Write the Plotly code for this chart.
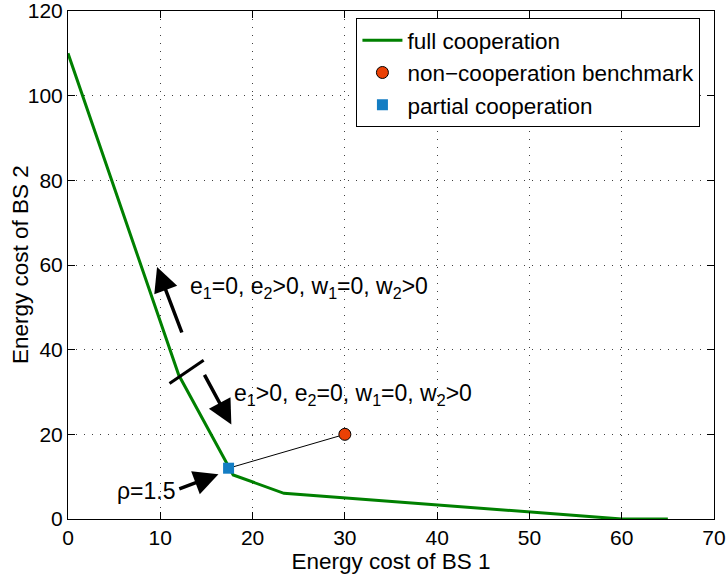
import plotly.graph_objects as go

# ---- data ----
full_x = [0, 12.0, 17.9, 23.4, 60, 65]
full_y = [110, 34.0, 10.4, 6.07, 0, 0]

noncoop_x = [30]
noncoop_y = [20]

partial_x = [17.4]
partial_y = [12.0]

x_ticks = [0, 10, 20, 30, 40, 50, 60, 70]
y_ticks = [0, 20, 40, 60, 80, 100, 120]

# regime separator mark crossing the curve
sep_x = [11.0, 14.7]
sep_y = [32.0, 37.5]

# arrows: (tail x, tail y, head x, head y)
arrow_up = (12.4, 43.7, 9.65, 59.5)
arrow_down = (14.7, 34.4, 17.7, 22.3)
arrow_rho = (11.9, 7.0, 16.3, 10.6)

label_up = "e<sub>1</sub>=0, e<sub>2</sub>&gt;0, w<sub>1</sub>=0, w<sub>2</sub>&gt;0"
label_down = "e<sub>1</sub>&gt;0, e<sub>2</sub>=0, w<sub>1</sub>=0, w<sub>2</sub>&gt;0"
label_up_pos = (12.97, 54.6)
label_down_pos = (17.78, 29.4)
label_rho = "ρ=1.5"
label_rho_pos = (8.5, 6.6)

x_title = "Energy cost of BS 1"
y_title = "Energy cost of BS 2"

FONT = "Liberation Sans, Arial, Helvetica, sans-serif"

fig = go.Figure()

# connecting thin line between partial cooperation and benchmark
fig.add_trace(go.Scatter(x=partial_x + noncoop_x, y=partial_y + noncoop_y, mode="lines",
                         line=dict(color="black", width=1), showlegend=False, hoverinfo="skip"))

fig.add_trace(go.Scatter(x=full_x, y=full_y, mode="lines", name="full cooperation",
                         line=dict(color="rgb(0,128,0)", width=3)))

fig.add_trace(go.Scatter(x=noncoop_x, y=noncoop_y, mode="markers", name="non−cooperation benchmark",
                         marker=dict(symbol="circle", size=12, color="rgb(235,65,5)",
                                     line=dict(color="black", width=1))))

fig.add_trace(go.Scatter(x=partial_x, y=partial_y, mode="markers", name="partial cooperation",
                         marker=dict(symbol="square", size=11, color="rgb(20,125,195)",
                                     line=dict(width=0))))

fig.add_trace(go.Scatter(x=sep_x, y=sep_y, mode="lines", line=dict(color="black", width=3),
                         showlegend=False, hoverinfo="skip"))

for (tx, ty, hx, hy) in [arrow_up, arrow_down, arrow_rho]:
    fig.add_annotation(x=hx, y=hy, ax=tx, ay=ty, xref="x", yref="y", axref="x", ayref="y",
                       showarrow=True, arrowhead=2, arrowsize=1.4, arrowwidth=3.5,
                       arrowcolor="black", text="")

fig.add_annotation(x=label_up_pos[0], y=label_up_pos[1], text=label_up, showarrow=False,
                   xanchor="left", yanchor="middle", font=dict(size=23, color="black", family=FONT))
fig.add_annotation(x=label_down_pos[0], y=label_down_pos[1], text=label_down, showarrow=False,
                   xanchor="left", yanchor="middle", font=dict(size=23, color="black", family=FONT))
fig.add_annotation(x=label_rho_pos[0], y=label_rho_pos[1], text=label_rho, showarrow=False,
                   xanchor="center", yanchor="middle", font=dict(size=23, color="black", family=FONT))

# y-axis title placed like the reference
fig.add_annotation(x=0, y=0.5, xref="paper", yref="paper", text=y_title, showarrow=False,
                   textangle=-90, xanchor="center", yanchor="middle", xshift=-48,
                   font=dict(size=22.5, color="black", family=FONT))

axis_common = dict(showline=True, linecolor="black", linewidth=1, mirror="ticks",
                   ticks="inside", ticklen=7, tickcolor="black", tickwidth=1,
                   showgrid=True, gridcolor="rgba(0,0,0,0.75)", gridwidth=1, griddash="1px,7px",
                   zeroline=False, automargin=False,
                   tickfont=dict(size=21, color="black", family=FONT))

fig.update_xaxes(range=[0, 70], tickvals=x_ticks, title_text=x_title,
                 title_standoff=4, title_font=dict(size=22.5, color="black", family=FONT),
                 **axis_common)
fig.update_yaxes(range=[0, 120], tickvals=y_ticks, ticklabeloverflow="allow", **axis_common)

fig.update_layout(
    width=727, height=578,
    margin=dict(l=68, r=13, t=11, b=59),
    paper_bgcolor="white", plot_bgcolor="white",
    font=dict(family=FONT, color="black"),
    legend=dict(x=0.979, y=0.986, xanchor="right", yanchor="top",
                bgcolor="white", bordercolor="black", borderwidth=1,
                font=dict(size=22.5, color="black", family=FONT),
                tracegroupgap=0, itemwidth=40),
    showlegend=True,
)

fig.write_html("out.html", config={"displayModeBar": False})
